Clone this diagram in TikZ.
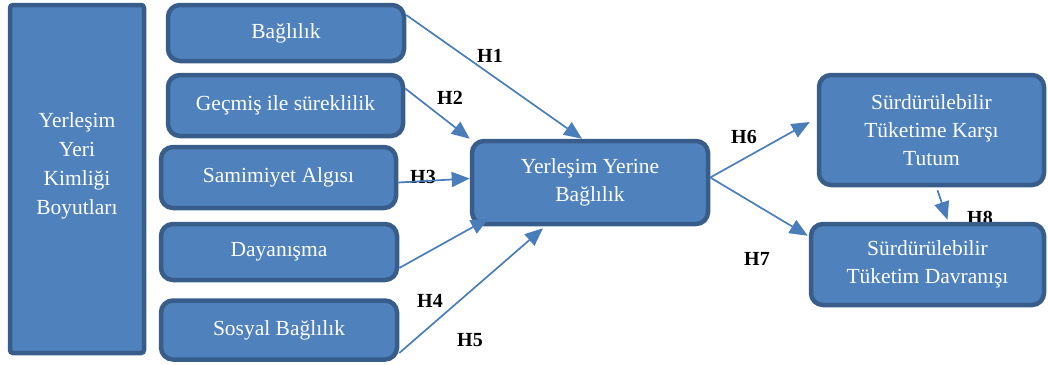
\documentclass[tikz,border=0pt]{standalone}
\usepackage{fontspec}
\setmainfont{Liberation Serif}
\usetikzlibrary{arrows.meta}
\definecolor{boxfill}{HTML}{4F81BD}
\definecolor{boxborder}{HTML}{385D8A}
\definecolor{arrowc}{HTML}{4A7EBB}
\tikzset{
  box/.style={draw=boxborder, fill=boxfill, line width=4.5pt, rounded corners=12pt,
    text=white, align=center, font=\fontsize{21.5}{28}\selectfont, inner sep=0pt},
  boxtext/.style={text=white, align=center, font=\fontsize{21.5}{29}\selectfont, inner sep=0pt},
  link/.style={draw=arrowc, line width=1.7pt, -{Triangle[length=18pt,width=15pt]}},
  hyp/.style={font=\bfseries\fontsize{20}{24}\selectfont, text=black, inner sep=0pt}
}
\begin{document}
\begin{tikzpicture}[x=1pt,y=-1pt]
\useasboundingbox (0,0) rectangle (1048,364);
% left box
\node[box, rounded corners=3pt, minimum width=134pt, minimum height=348pt] (L) at (77,179) {};
\node[boxtext] (Ltxt) at (77,166) {Yerleşim\\Yeri\\Kimliği\\Boyutları};
% dimension boxes
\node[box, minimum width=236pt, minimum height=56pt] (b1) at (286,33) {Bağlılık};
\node[box, minimum width=235pt, minimum height=61pt] (b2) at (285.5,105.5) {Geçmiş ile süreklilik};
\node[box, minimum width=235pt, minimum height=61pt] (b3) at (278.5,177.5) {Samimiyet Algısı};
\node[box, minimum width=236pt, minimum height=56pt] (b4) at (279,252) {Dayanışma};
\node[box, minimum width=236pt, minimum height=59pt] (b5) at (279,330) {Sosyal Bağlılık};
% center
\node[box, minimum width=236pt, minimum height=83pt] (C) at (590,182.5) {Yerleşim Yerine\\Bağlılık};
% right
\node[box, minimum width=225pt, minimum height=110pt] (T) at (931.5,130) {Sürdürülebilir\\Tüketime Karşı\\Tutum};
\node[hyp] (h8) at (980,218) {H8};
\node[box, minimum width=233pt, minimum height=81pt] (D) at (927.5,264.5) {Sürdürülebilir\\Tüketim Davranışı};
% labels
\node[hyp] (h1) at (490,56) {H1};
\node[hyp] (h2) at (450,98) {H2};
\node[hyp] (h3) at (423,177) {H3};
\node[hyp] (h4) at (430,301) {H4};
\node[hyp] (h5) at (470,340) {H5};
\node[hyp] (h6) at (744,137) {H6};
\node[hyp] (h7) at (757,259) {H7};
% arrows
\draw[link] ([yshift=18pt]b1.east) -- ([xshift=-8pt]C.north);
\draw[link] ([yshift=17pt]b2.east) -- (C.north west);
\draw[link] ([yshift=-5pt]b3.east) -- ([yshift=4pt]C.west);
\draw[link] ([yshift=-16pt]b4.east) -- ([xshift=19pt,yshift=8pt]C.south west);
\draw[link] ([yshift=-23pt]b5.east) -- ([xshift=-47pt,yshift=-2pt]C.south);
\draw[link] ([yshift=5pt]C.east) -- ([xshift=-7pt,yshift=8pt]T.west);
\draw[link] ([yshift=5pt]C.east) -- ([xshift=-1pt,yshift=-14pt]D.north west);
\draw[link] ([xshift=6pt,yshift=-3pt]T.south) -- ([xshift=20pt,yshift=2pt]D.north);
\end{tikzpicture}
\end{document}
